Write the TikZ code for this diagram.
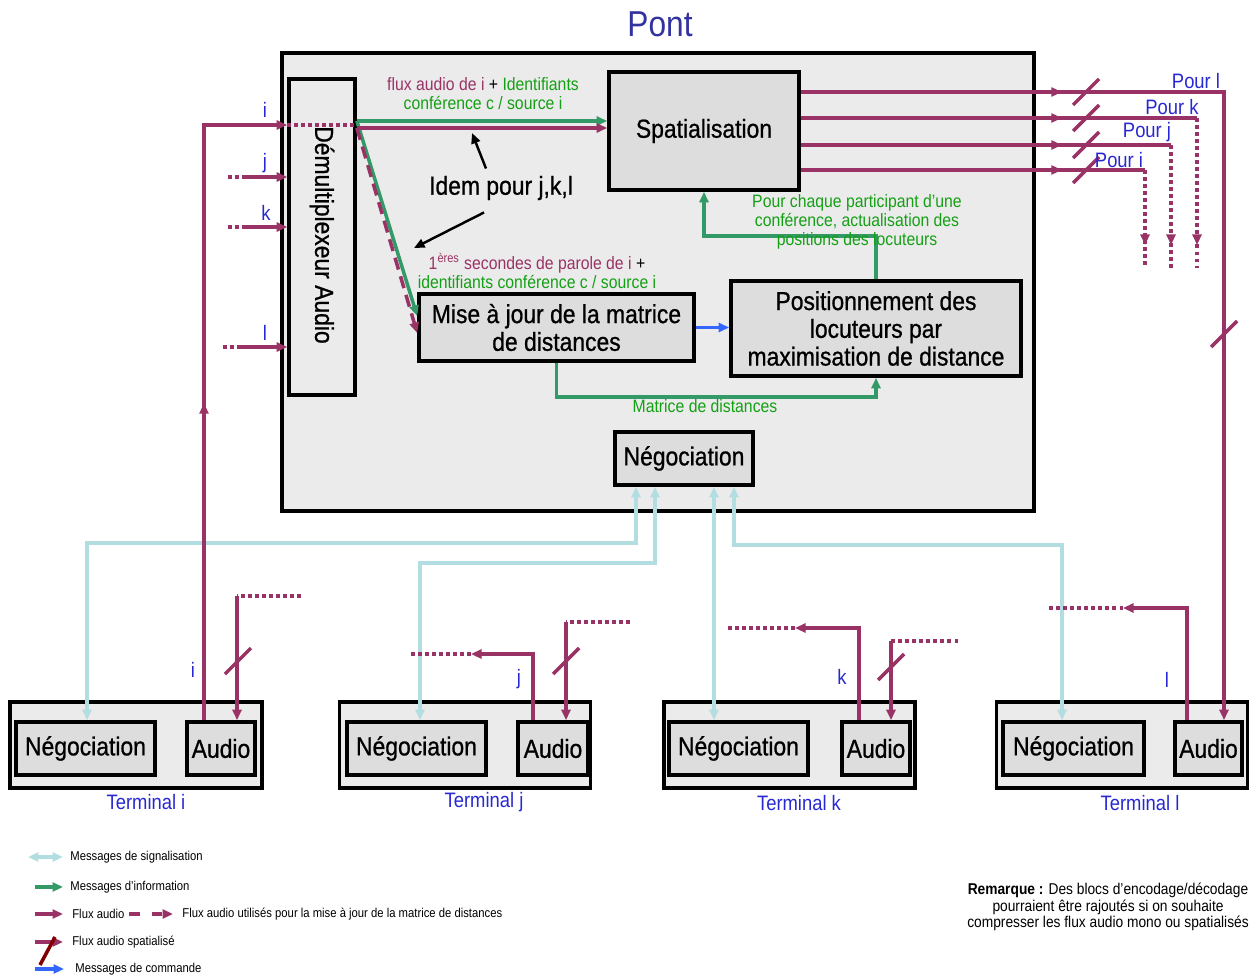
\documentclass[tikz,border=0pt]{standalone}
\usepackage{fontspec}
\setmainfont{Liberation Sans}[FakeStretch=0.88]
\newfontfamily\boxfont{Liberation Sans}[FakeStretch=0.88,FakeBold=0.8]
\usetikzlibrary{arrows.meta,calc,decorations.markings}

\definecolor{audcol}{RGB}{153,51,102}
\definecolor{infcol}{RGB}{51,153,102}
\definecolor{inftxt}{RGB}{20,160,20}
\definecolor{sigcol}{RGB}{178,222,226}
\definecolor{cmdcol}{RGB}{51,102,255}
\definecolor{lblblue}{RGB}{40,40,210}
\definecolor{pontblue}{RGB}{51,51,160}
\definecolor{boxlight}{RGB}{235,235,235}
\definecolor{boxdark}{RGB}{221,221,221}
\definecolor{cutred}{RGB}{128,0,0}

\begin{document}
\begin{tikzpicture}[
    x=0.02cm,y=-0.02cm,
    >={Triangle[length=2.1mm,width=1.8mm]},
    every node/.style={inner sep=0pt},
    shell/.style={draw=black,line width=2.1pt,fill=boxlight},
    blk/.style={draw=black,line width=2.1pt,fill=boxdark,align=center,font=\boxfont\fontsize{14.8}{15.8}\selectfont},
    termbox/.style={shell,minimum width=5.02cm,minimum height=1.72cm},
    tneg/.style={blk,minimum width=2.78cm,minimum height=1.06cm},
    taud/.style={blk,minimum width=1.36cm,minimum height=1.06cm},
    aud/.style={draw=audcol,line width=2pt},
    dotaud/.style={aud,dash pattern=on 2pt off 2pt},
    dashaud/.style={aud,dash pattern=on 7pt off 4pt},
    infarr/.style={draw=infcol,line width=2pt,->},
    sigarr/.style={draw=sigcol,line width=2pt,<->},
    cmdarr/.style={draw=cmdcol,line width=2pt,->},
    idemarr/.style={draw=black,line width=1.4pt,->},
    midarr/.style={postaction={decorate,decoration={markings,
        mark=at position #1 with {\arrow{Triangle[length=2.1mm,width=1.8mm,color=audcol]}}}}},
    lbl/.style={text=lblblue,font=\fontsize{11.9}{13}\selectfont},
    note/.style={font=\fontsize{10.2}{10.8}\selectfont,align=center},
    lgd/.style={font=\fontsize{7.3}{8}\selectfont,anchor=west},
    audcut/.pic={\draw[audcol,line width=2pt] (-13,13) -- (13,-13);}
  ]
  \useasboundingbox (0,0) rectangle (1253,976);
  % title
  \node[text=pontblue,font=\fontsize{20.5}{23}\selectfont] (title) at (660,24) {Pont};
  % bridge and its blocks
  \node[shell,minimum width=15.04cm,minimum height=9.16cm] (pont) at (658,282) {};
  \node[shell,minimum width=1.32cm,minimum height=6.32cm] (demux) at (322,237) {};
  \node[rotate=-90,font=\boxfont\fontsize{14.8}{15.8}\selectfont] (demuxlbl) at (322,235) {Démultiplexeur Audio};
  \node[blk,minimum width=3.8cm,minimum height=2.36cm] (spat) at (704,131) {Spatialisation};
  \node[blk,minimum width=5.5cm,minimum height=1.34cm] (maj) at (556.5,327.5) {Mise à jour de la matrice\\de distances};
  \node[blk,minimum width=5.8cm,minimum height=1.9cm] (posit) at (876,328.5) {Positionnement des\\locuteurs par\\maximisation de distance};
  \node[blk,minimum width=2.76cm,minimum height=1.06cm] (negp) at (684,458.5) {Négociation};
  % terminals
  \node[termbox,minimum width=5.04cm] (Ti) at (136,745) {};
  \node[tneg] (Ni) at (85.5,748.5) {Négociation};
  \node[taud] (Ai) at (221,748.5) {Audio};
  \node[lbl] (Til) at (146,802) {Terminal i};
  \node[termbox] (Tj) at (465,745) {};
  \node[tneg] (Nj) at (416.5,748.5) {Négociation};
  \node[taud,minimum width=1.4cm] (Aj) at (553,748.5) {Audio};
  \node[lbl] (Tjl) at (484,802) {Terminal j};
  \node[termbox] (Tk) at (789.5,745) {};
  \node[tneg] (Nk) at (738.5,748.5) {Négociation};
  \node[taud] (Ak) at (876,748.5) {Audio};
  \node[lbl] (Tkl) at (799,803) {Terminal k};
  \node[termbox] (Tl) at (1122,745) {};
  \node[tneg,minimum width=2.82cm] (Nl) at (1073.5,748.5) {Négociation};
  \node[taud,minimum width=1.34cm] (Al) at (1208.5,748.5) {Audio};
  \node[lbl] (Tll) at (1140,803) {Terminal l};
  % signalling between terminals and bridge negotiation
  \draw[sigarr] (Ni.north -| 87,0) |- (636,543) -- (negp.south -| 636,0);
  \draw[sigarr] (Nj.north -| 420,0) |- (655,563) -- (negp.south -| 655,0);
  \draw[sigarr] (Nk.north -| 714,0) -- (negp.south -| 714,0);
  \draw[sigarr] (Nl.north -| 1062,0) |- (734,545) -- (negp.south -| 734,0);
  % information flows inside the bridge
  \draw[infarr] (demux.east |- 0,121) -- (spat.west |- 0,121);
  \draw[infarr] (demux.east |- 0,121) -- (maj.west |- 0,316);
  \draw[infarr] (posit.north) -- (posit.north |- 0,236) -| (spat.south -| 704,0);
  \draw[infarr] (maj.south) -- (maj.south |- 0,397) -| (posit.south);
  \draw[cmdarr] (maj.east) -- (posit.west |- maj.east);
  % audio into the demultiplexer
  \draw[aud,->,midarr=6.34cm] (Ai.north -| 204,0) -- (204,125) -- (demux.west |- 0,125);
  \draw[dotaud] (demux.west |- 0,125) -- (demux.east |- 0,125);
  \coordinate (dmj) at (228,177);
  \draw[dotaud] (dmj) -- ++(16,0) coordinate (dmj2);
  \draw[aud,->] (dmj2) -- (demux.west |- dmj2);
  \coordinate (dmk) at (228,227);
  \draw[dotaud] (dmk) -- ++(16,0) coordinate (dmk2);
  \draw[aud,->] (dmk2) -- (demux.west |- dmk2);
  \coordinate (dml) at (223,347);
  \draw[dotaud] (dml) -- ++(15,0) coordinate (dml2);
  \draw[aud,->] (dml2) -- (demux.west |- dml2);
  % demultiplexer outputs
  \draw[aud,->] (demux.east |- 0,128) -- (spat.west |- 0,128);
  \draw[dashaud,->] (demux.east |- 0,128) -- (maj.west |- 0,333);
  % spatialised outputs
  \draw[aud,->,midarr=5.22cm] (spat.east |- 0,92) -- (1224,92) -- (Al.north -| 1224,0);
  \draw[aud,midarr=5.22cm] (spat.east |- 0,118) -- (1197,118) coordinate (pdk);
  \draw[dotaud,midarr=2.54cm] (pdk) -- ++(0,150);
  \draw[aud,midarr=5.22cm] (spat.east |- 0,145) -- (1171,145) coordinate (pdj);
  \draw[dotaud,midarr=2.0cm] (pdj) -- ++(0,123);
  \draw[aud,midarr=5.22cm] (spat.east |- 0,170) -- (1145,170) coordinate (pdi);
  \draw[dotaud,midarr=1.5cm] (pdi) -- ++(0,98);
  \pic at (1086,92) {audcut};
  \pic at (1086,118) {audcut};
  \pic at (1086,145) {audcut};
  \pic at (1086,170) {audcut};
  \pic at (1224,334) {audcut};
  % terminal audio
  \coordinate (tii) at (301,596);
  \draw[dotaud] (tii) -- ++(-64,0) coordinate (tii2);
  \draw[aud,->] (tii2) -- (Ai.north -| tii2);
  \draw[aud,->] (Aj.north -| 533,0) |- (471,654) coordinate (tjo);
  \draw[dotaud] (tjo) -- ++(-63,0);
  \coordinate (tji) at (630,622);
  \draw[dotaud] (tji) -- ++(-64,0) coordinate (tji2);
  \draw[aud,->] (tji2) -- (Aj.north -| tji2);
  \draw[aud,->] (Ak.north -| 859,0) |- (795,628) coordinate (tko);
  \draw[dotaud] (tko) -- ++(-68,0);
  \coordinate (tki) at (958,641);
  \draw[dotaud] (tki) -- ++(-67,0) coordinate (tki2);
  \draw[aud,->] (tki2) -- (Ak.north -| tki2);
  \draw[aud,->] (Al.north -| 1187,0) |- (1123,608) coordinate (tlo);
  \draw[dotaud] (tlo) -- ++(-74,0);
  \pic at (238,661) {audcut};
  \pic at (566,661) {audcut};
  \pic at (891,667) {audcut};
  % blue labels
  \node[lbl] (li) at (265,110) {i};
  \node[lbl] (lj) at (265,163) {j};
  \node[lbl] (lk) at (266,213) {k};
  \node[lbl] (ll) at (265,333) {l};
  \node[lbl] (pol) at (1196,81) {Pour l};
  \node[lbl] (pok) at (1172,107) {Pour k};
  \node[lbl] (poj) at (1147,132) {Pour j};
  \node[lbl] (poi) at (1119,160) {Pour i};
  \node[lbl] (tli) at (193,670) {i};
  \node[lbl] (tlj) at (519,679) {j};
  \node[lbl] (tlk) at (842,677) {k};
  \node[lbl] (tll) at (1167,680) {l};
  % flow captions
  \node[note] (flxlbl) at (483,94) {{\color{audcol}flux audio de i} + {\color{inftxt}Identifiants}\\{\color{inftxt}conférence c / source i}};
  \node[note] (secl) at (537,271) {{\color{audcol}1\textsuperscript{ères} secondes de parole de i} +\\{\color{inftxt}identifiants conférence c / source i}};
  \node[note,text=inftxt] (actl) at (857,222) {Pour chaque participant d'une\\conférence, actualisation des\\positions des locuteurs};
  \node[note,text=inftxt] (matl) at (705,406) {Matrice de distances};
  % same for the other sources
  \node[font=\boxfont\fontsize{14.8}{15.8}\selectfont] (idem) at (501,188) {Idem pour j,k,l};
  \coordinate (idemA) at (472,133);
  \coordinate (idemB) at (414,248);
  \draw[idemarr] ($(idem.north)+(-15,-7)$) -- (idemA);
  \draw[idemarr] ($(idem.south)+(-17,12)$) -- (idemB);
  % legend
  \node[lgd] (lg1) at (70,857) {Messages de signalisation};
  \draw[sigarr] ($(lg1.west)+(-42,0)$) -- ($(lg1.west)+(-7,0)$);
  \node[lgd] (lg2) at (70,887) {Messages d'information};
  \draw[infarr] ($(lg2.west)+(-35,0)$) -- ($(lg2.west)+(-7,0)$);
  \node[lgd] (lg3) at (72,914) {Flux audio};
  \draw[aud,->] ($(lg3.west)+(-37,0)$) -- ($(lg3.west)+(-9,0)$);
  \node[lgd] (lg3b) at (182,914) {Flux audio utilisés pour la mise à jour de la matrice de distances};
  \draw[dashaud,dash pattern=on 6pt off 7pt,->] ($(lg3b.west)+(-53,0)$) -- ($(lg3b.west)+(-9,0)$);
  \node[lgd] (lg4) at (72,942) {Flux audio spatialisé};
  \draw[aud,->] ($(lg4.west)+(-37,0)$) -- ($(lg4.west)+(-9,0)$);
  \draw[cutred,line width=2pt] ($(lg4.west)+(-32,23)$) -- ($(lg4.west)+(-17,-5)$);
  \node[lgd] (lg5) at (75,969) {Messages de commande};
  \draw[cmdarr] ($(lg5.west)+(-40,0)$) -- ($(lg5.west)+(-11,0)$);
  % remark
  \node[font=\fontsize{8.9}{9.4}\selectfont,align=center] (rem) at (1108,907)
    {\textbf{Remarque :} Des blocs d'encodage/décodage\\pourraient être rajoutés si on souhaite\\compresser les flux audio mono ou spatialisés};
\end{tikzpicture}
\end{document}
